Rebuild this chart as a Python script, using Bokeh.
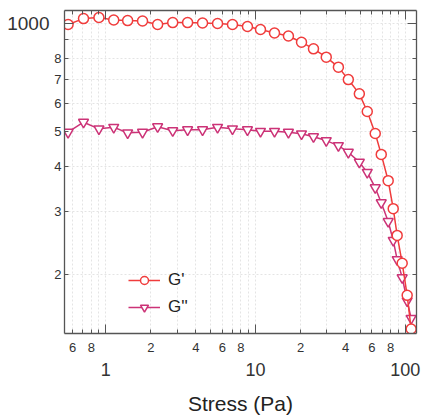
from bokeh.plotting import figure
from bokeh.models import (LogAxis, FixedTicker, Legend, LegendItem,
                          ColumnDataSource, Range1d)
from bokeh.embed import file_html
from bokeh.resources import INLINE

# ---- data ----
stress = [0.56, 0.71, 0.90, 1.13, 1.40, 1.76, 2.22, 2.80, 3.52, 4.43,
          5.58, 7.02, 8.84, 10.8, 13.4, 16.6, 20.3, 24.4, 29.7, 35.8,
          41.7, 49.4, 55.8, 63.1, 69.2, 77.0, 83.2, 88.4, 95.5, 103.1, 109.6]
g_storage = [994, 1032, 1039, 1023, 1019, 1016, 994, 1006, 1006, 1003,
             1000, 994, 981, 962, 941, 923, 887, 850, 806, 756,
             698, 637, 569, 494, 432, 365, 305, 257, 215, 175, 141]
g_loss = [498, 531, 509, 514, 496, 498, 516, 503, 506, 506,
          514, 509, 506, 501, 501, 498, 493, 484, 472, 457,
          438, 411, 385, 349, 317, 281, 249, 220, 196, 169, 151]

series_labels = ["G'", "G''"]
x_label = "Stress (Pa)"

x_minor_ticks = [0.6, 0.7, 0.8, 0.9, 2, 3, 4, 5, 6, 7, 8, 9,
                 20, 30, 40, 50, 60, 70, 80, 90]
x_decades = [1, 10, 100]
x_minor_labels = {0.6: "6", 0.8: "8", 2: "2", 4: "4", 6: "6", 8: "8",
                  20: "2", 40: "4", 60: "6", 80: "8"}
x_decade_labels = {1: "1", 10: "10", 100: "100"}

y_minor_ticks = [200, 300, 400, 500, 600, 700, 800, 900]
y_decades = [1000]
y_minor_labels = {200: "2", 300: "3", 400: "4", 500: "5", 600: "6",
                  700: "7", 800: "8"}
y_decade_labels = {1000: "1000"}

FONT = "Liberation Sans"
C1 = "#f03c3c"
C2 = "#cc3377"
AX = "#555555"

p = figure(width=424, height=419, x_axis_type="log", y_axis_type="log",
           x_range=Range1d(0.53, 119), y_range=Range1d(137, 1087),
           output_backend="svg", toolbar_location=None,
           min_border_left=64, min_border_right=8, min_border_top=10,
           min_border_bottom=86)
p.outline_line_color = None
p.background_fill_color = "white"
p.border_fill_color = "white"


def tick_axis(ax, minor, decades):
    """Axis that only draws inward ticks (short minor, long decade)."""
    ax.ticker = FixedTicker(ticks=minor, minor_ticks=decades)
    ax.major_tick_in = 4
    ax.major_tick_out = 0
    ax.minor_tick_in = 9
    ax.minor_tick_out = 0
    ax.major_tick_line_color = AX
    ax.minor_tick_line_color = AX
    ax.axis_line_color = AX
    ax.axis_line_width = 1.3
    ax.major_label_text_color = None
    ax.major_label_standoff = 0


def label_axis(labels, size, standoff):
    """Axis that only draws labels (no line, no ticks)."""
    ax = LogAxis(ticker=FixedTicker(ticks=list(labels.keys()), minor_ticks=[]))
    ax.major_label_overrides = labels
    ax.axis_line_color = None
    ax.major_tick_line_color = None
    ax.minor_tick_line_color = None
    ax.major_tick_in = 0
    ax.major_tick_out = 0
    ax.minor_tick_in = 0
    ax.minor_tick_out = 0
    ax.major_label_text_font = FONT
    ax.major_label_text_font_size = size
    ax.major_label_text_color = "#333333"
    ax.major_label_standoff = standoff
    return ax


# tick-only axes on all four sides
tick_axis(p.xaxis[0], x_minor_ticks, x_decades)
tick_axis(p.yaxis[0], y_minor_ticks, y_decades)
for loc, minor, dec in (("above", x_minor_ticks, x_decades),
                        ("right", y_minor_ticks, y_decades)):
    ax = LogAxis()
    tick_axis(ax, minor, dec)
    p.add_layout(ax, loc)

# bottom labels: small digits, then decades + title
p.add_layout(label_axis(x_minor_labels, "13px", 9), "below")
xo = label_axis(x_decade_labels, "18px", 8)
xo.axis_label = x_label
xo.axis_label_text_font = FONT
xo.axis_label_text_font_size = "21px"
xo.axis_label_text_font_style = "normal"
xo.axis_label_text_color = "#222222"
xo.axis_label_standoff = 13
p.add_layout(xo, "below")

# left labels: small digits, then "1000"
p.add_layout(label_axis(y_minor_labels, "13px", 3), "left")
p.add_layout(label_axis(y_decade_labels, "19px", 2), "left")

# grids
p.xgrid[0].ticker = FixedTicker(ticks=x_minor_ticks + x_decades)
p.ygrid[0].ticker = FixedTicker(ticks=y_minor_ticks + y_decades)
for g in (p.xgrid[0], p.ygrid[0]):
    g.grid_line_color = "#e4e4e4"
    g.grid_line_dash = "2 2"
    g.grid_line_width = 1

src = ColumnDataSource(dict(stress=stress, gs=g_storage, gl=g_loss))

l2 = p.line("stress", "gl", source=src, line_color=C2, line_width=1.5)
s2 = p.scatter("stress", "gl", source=src, marker="inverted_triangle", size=10,
               line_color=C2, fill_color="white", line_width=1.5)
l1 = p.line("stress", "gs", source=src, line_color=C1, line_width=1.5)
s1 = p.scatter("stress", "gs", source=src, marker="circle", size=10,
               line_color=C1, fill_color="white", line_width=1.5)

legend = Legend(items=[LegendItem(label=series_labels[0], renderers=[l1, s1]),
                       LegendItem(label=series_labels[1], renderers=[l2, s2])],
                location=(64, 16))
legend.background_fill_alpha = 0
legend.border_line_alpha = 0
legend.padding = 0
legend.margin = 0
legend.spacing = 7
legend.glyph_width = 32
legend.glyph_height = 20
legend.label_height = 20
legend.label_standoff = 8
legend.label_text_font = FONT
legend.label_text_font_size = "17px"
legend.label_text_color = "#222222"
p.add_layout(legend)

open("out.html", "w").write(file_html(p, INLINE))
